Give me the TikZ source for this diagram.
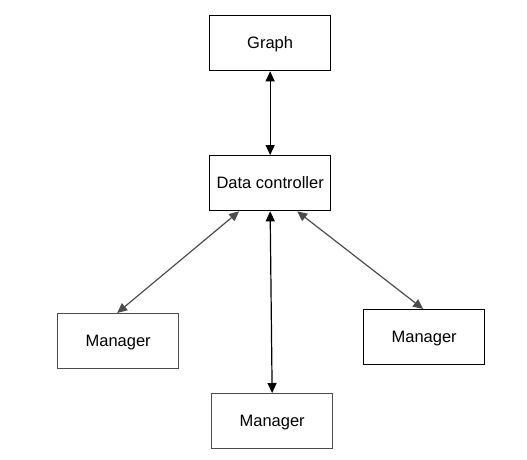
\documentclass[tikz,border=0pt]{standalone}
\usepackage{fontspec}
\setmainfont{Liberation Sans}
\usetikzlibrary{arrows.meta}
\begin{document}
\begin{tikzpicture}[x=1pt,y=-1pt,
  box/.style={draw=#1,line width=1.3pt,minimum width=121pt,minimum height=55pt,inner sep=0pt,font=\fontsize{16.5}{18}\selectfont,text height=14pt,text depth=3pt,anchor=north west,text=black},
  box/.default=black,
  link/.style={draw=#1,line width=1.2pt,{Triangle[length=10pt,width=9pt]}-{Triangle[length=10pt,width=9pt]}},
  link/.default=black]
\useasboundingbox (0,0) rectangle (527,459);
\node[box] (graph) at (209,15) {Graph};
\node[box] (dc) at (209,155) {Data controller};
\node[box=black!70] (m1) at (57,313) {Manager};
\node[box=black!70] (m2) at (211,393) {Manager};
\node[box=black] (m3) at (363,309) {Manager};
\draw[link] (graph.south) -- (dc.north);
\draw[link=black!70] ([xshift=-31pt]dc.south) -- ([xshift=-1pt]m1.north);
\draw[link] (dc.south) -- (m2.north);
\draw[link=black!70] ([xshift=27pt]dc.south) -- ([xshift=-1pt]m3.north);
\end{tikzpicture}
\end{document}
